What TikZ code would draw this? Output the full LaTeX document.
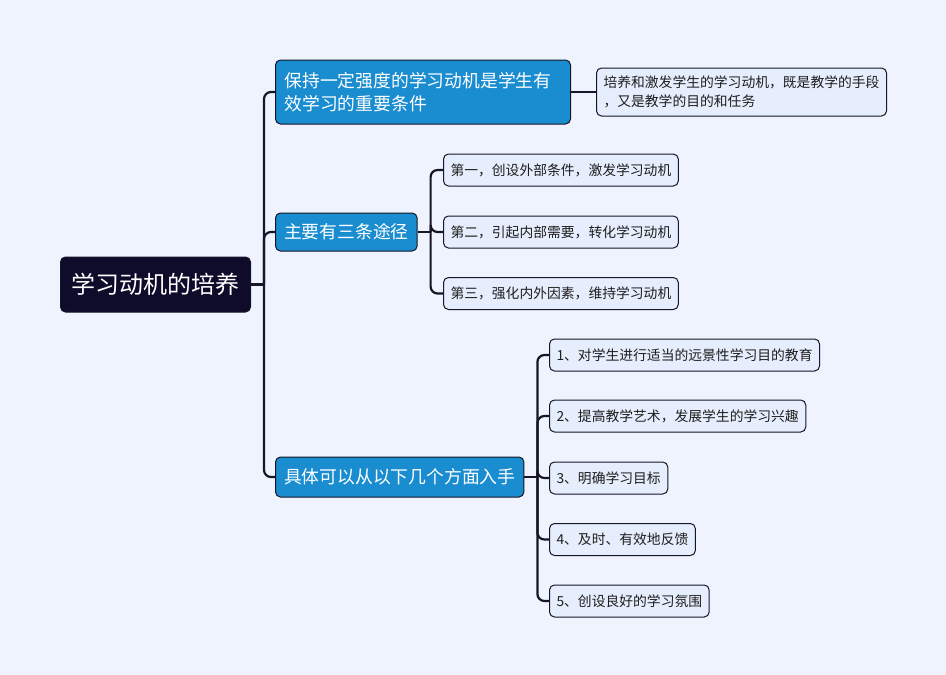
\documentclass[tikz,border=0pt]{standalone}
\usepackage{fontspec}
\setmainfont{Noto Sans CJK SC}
\usepackage{xcolor}
\usetikzlibrary{positioning}
\definecolor{bgblue}{RGB}{238,243,253}
\definecolor{rootnavy}{RGB}{14,11,43}
\definecolor{mainblue}{RGB}{26,140,208}
\definecolor{leafblue}{RGB}{230,237,252}
\definecolor{linedark}{RGB}{22,22,40}
\definecolor{textdark}{RGB}{30,30,30}
\tikzset{
base/.style={rounded corners=5pt, draw=linedark, line width=1pt, anchor=west},
rootbox/.style={base, fill=rootnavy, text=white, font=\fontsize{24}{28}\selectfont,
  minimum height=55pt, inner xsep=11pt},
mainbox/.style={base, fill=mainblue, text=white, font=\fontsize{17.8}{23}\selectfont,
  inner xsep=8.5pt},
leafbox/.style={base, fill=leafblue, text=textdark, font=\fontsize{13.8}{19}\selectfont,
  minimum height=32pt, inner xsep=7pt},
link/.style={draw=linedark, line width=2.2pt, rounded corners=7pt}
}
\begin{document}
\begin{tikzpicture}[x=1pt,y=-1pt]
\fill[bgblue] (0,0) rectangle (946,675);
\useasboundingbox (0,0) rectangle (946,675);
% root and main branches
\node[rootbox] (root) at (60,284.5) {学习动机的培养};
\node[mainbox, text width=277pt, align=left, minimum height=64pt, inner xsep=9pt] (b1) at (275,92)
  {保持一定强度的学习动机是学生有\\效学习的重要条件};
\node[mainbox, minimum height=38pt] (b2) at (275,232) {主要有三条途径};
\node[mainbox, minimum height=40pt] (b3) at (275,477) {具体可以从以下几个方面入手};
% leaves
\node[leafbox, text width=276pt, align=left, minimum height=48pt] (l1) at (596,92)
  {培养和激发学生的学习动机，既是教学的手段\\，又是教学的目的和任务};
\node[leafbox] (s1) at (443,170) {第一，创设外部条件，激发学习动机};
\node[leafbox] (s2) at (443,232) {第二，引起内部需要，转化学习动机};
\node[leafbox] (s3) at (443,293.5) {第三，强化内外因素，维持学习动机};
\node[leafbox] (t1) at (549,355) {1、对学生进行适当的远景性学习目的教育};
\node[leafbox] (t2) at (549,416) {2、提高教学艺术，发展学生的学习兴趣};
\node[leafbox] (t3) at (549,478) {3、明确学习目标};
\node[leafbox] (t4) at (549,539.5) {4、及时、有效地反馈};
\node[leafbox] (t5) at (549,601) {5、创设良好的学习氛围};
% connectors
\path (root.east) ++(13,0) coordinate (rj);
\path (b2.east) ++(13,0) coordinate (b2j);
\path (b3.east) ++(13,0) coordinate (b3j);
\draw[link] (root.east) -- (rj);
\foreach \b in {b1,b2,b3}
  \draw[link] (rj) |- (\b.west);
\draw[link] (b1.east) -- (l1.west);
\draw[link] (b2.east) -- (b2j);
\foreach \s in {s1,s2,s3}
  \draw[link] (b2j) |- (\s.west);
\draw[link] (b3.east) -- (b3j);
\foreach \t in {t1,t2,t3,t4,t5}
  \draw[link] (b3j) |- (\t.west);
\end{tikzpicture}
\end{document}
